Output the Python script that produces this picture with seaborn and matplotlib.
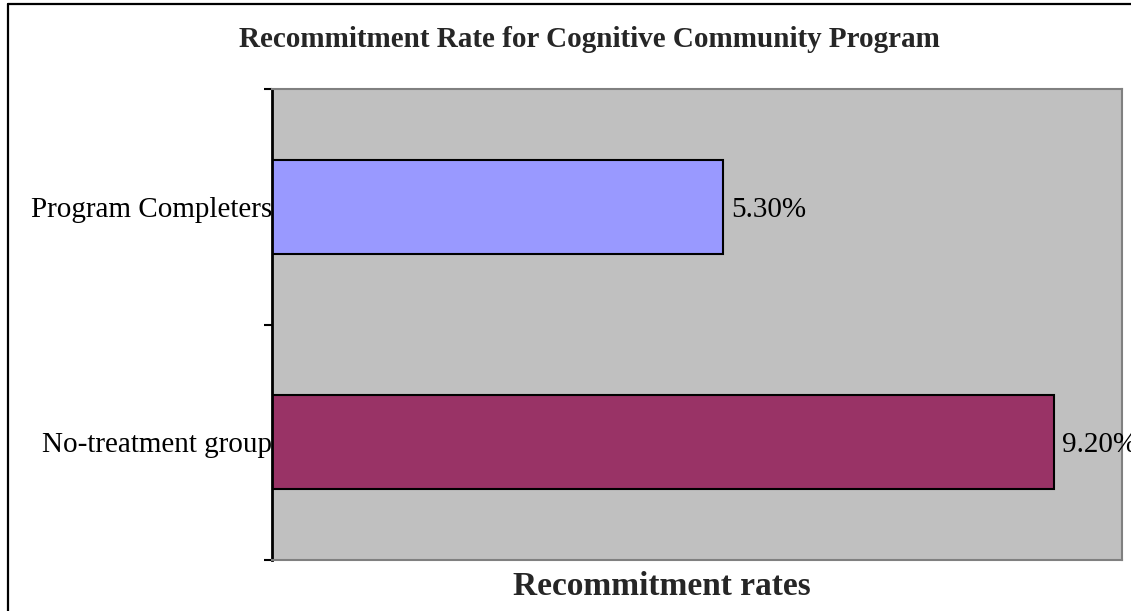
import matplotlib
matplotlib.use("Agg")
import matplotlib.pyplot as plt
from matplotlib.lines import Line2D
import seaborn as sns
import pandas as pd

# Chart data
groups = ["Program Completers", "No-treatment group"]
rates = [0.053, 0.092]
bar_colors = ["#9999FF", "#993366"]
title_text = "Recommitment Rate for Cognitive Community Program"
xlabel_text = "Recommitment rates"

sns.set_theme(style="white")
plt.rcParams["font.family"] = ["Liberation Serif", "DejaVu Serif"]

df = pd.DataFrame({"group": groups, "rate": rates})

fig = plt.figure(figsize=(11.31, 6.11), dpi=100)
ax = fig.add_axes([272 / 1131, 51 / 611, 850 / 1131, 471 / 611])
ax.set_facecolor("#C0C0C0")

sns.barplot(data=df, y="group", x="rate", hue="group", order=groups,
            hue_order=groups, palette=bar_colors, orient="h", width=0.4,
            edgecolor="black", linewidth=1.5, legend=False, ax=ax,
            saturation=1)

ax.set_xlim(0, 0.10)
ax.set_ylim(1.5, -0.5)
ax.set_xticks([])
ax.set_xlabel("")
ax.set_ylabel("")

# Category labels without tick marks; short ticks at the band boundaries
ax.set_yticks(range(len(groups)))
ax.set_yticklabels(groups, fontsize=21, color="black")
ax.tick_params(axis="y", which="major", length=0, pad=0)
ax.set_yticks([-0.5, 0.5, 1.5], minor=True)
ax.tick_params(axis="y", which="minor", left=True, length=6, width=1.5,
               color="black")
for lbl in ax.get_yticklabels():
    lbl.set_verticalalignment("center_baseline")

for side in ["top", "right", "bottom"]:
    ax.spines[side].set_color("#808080")
    ax.spines[side].set_linewidth(1.5)
ax.spines["left"].set_color("black")
ax.spines["left"].set_linewidth(2)

# Value labels at the end of each bar
for i, (g, v) in enumerate(zip(groups, rates)):
    ax.annotate(f"{v:.2%}", xy=(v, i), xytext=(6, 0),
                textcoords="offset points", ha="left",
                va="center_baseline", fontsize=21, color="black",
                annotation_clip=False)

fig.text(589 / 1131, (611 - 47) / 611, title_text, ha="center",
         va="baseline", fontsize=21, fontweight="bold")
fig.text(513 / 1131, (611 - 595) / 611, xlabel_text, ha="left",
         va="baseline", fontsize=24, fontweight="bold")

# Outer chart frame (left and top edges)
fig.add_artist(Line2D([8 / 1131, 8 / 1131], [0, 1 - 4 / 611],
                      transform=fig.transFigure, color="black", lw=1.6))
fig.add_artist(Line2D([8 / 1131, 1], [1 - 4 / 611, 1 - 4 / 611],
                      transform=fig.transFigure, color="black", lw=1.6))

fig.savefig("out.png", dpi=100)
